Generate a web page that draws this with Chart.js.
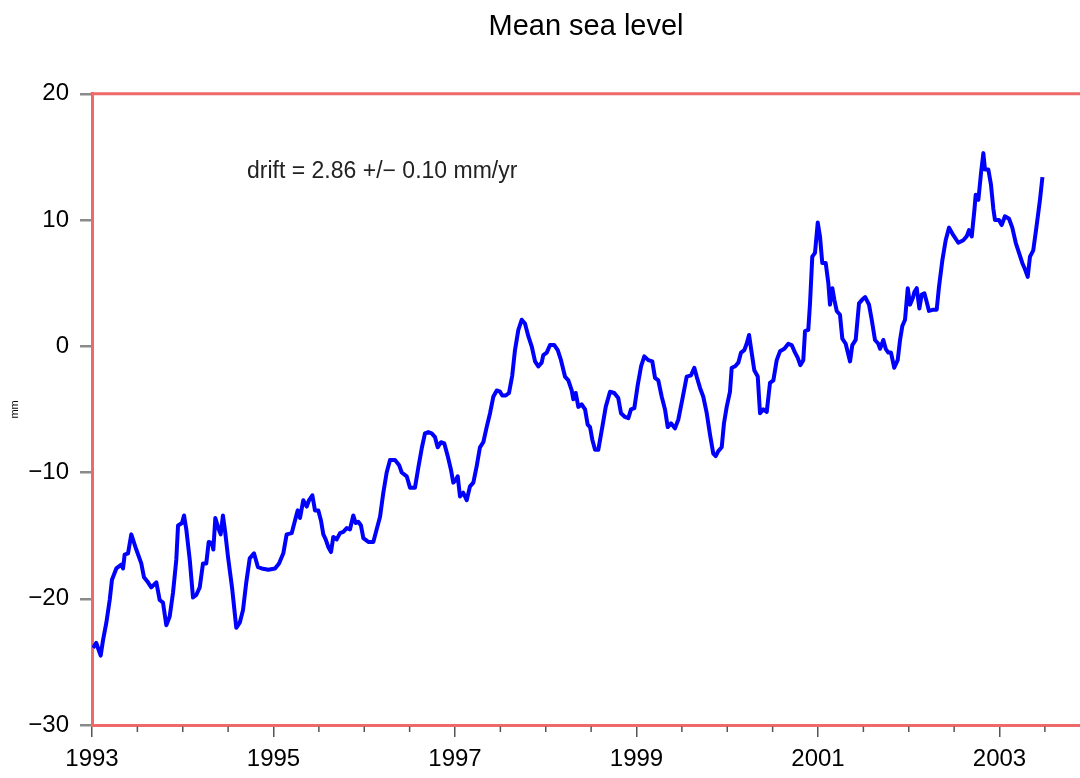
<!DOCTYPE html>
<html>
<head>
<meta charset="utf-8">
<script src="https://cdn.jsdelivr.net/npm/chart.js@4.4.1/dist/chart.umd.min.js"></script>
<style>
  html, body { margin: 0; padding: 0; background: #fff; }
  #wrap { width: 1080px; height: 778px; }
</style>
</head>
<body>
<div id="wrap"><canvas id="msl"></canvas></div>
<script>
// sea level anomaly (mm), time in decimal years
const years = [
  1993.011,1993.047,1993.066,1993.096,1993.121,1993.158,1993.195,1993.220,1993.268,1993.323,
  1993.342,1993.360,1993.397,1993.433,1993.488,1993.543,1993.573,1993.617,1993.653,1993.709,
  1993.746,1993.782,1993.819,1993.856,1993.893,1993.929,1993.948,1993.992,1994.014,1994.039,
  1994.077,1994.113,1994.149,1994.187,1994.223,1994.259,1994.286,1994.322,1994.337,1994.359,
  1994.396,1994.418,1994.443,1994.469,1994.499,1994.543,1994.590,1994.628,1994.664,1994.700,
  1994.738,1994.785,1994.829,
  1994.870,1994.943,1995.017,1995.061,1995.108,1995.145,1995.201,1995.237,1995.267,1995.292,
  1995.328,1995.366,1995.391,1995.428,1995.457,1995.494,1995.523,1995.549,1995.575,1995.604,
  1995.634,1995.659,1995.696,1995.733,1995.769,1995.807,1995.843,1995.879,1995.906,1995.934,
  1995.964,1995.990,1996.045,1996.100,1996.137,1996.174,1996.210,1996.247,1996.284,1996.339,
  1996.383,1996.413,1996.468,1996.504,1996.559,1996.596,1996.633,1996.669,
  1996.706,1996.743,1996.780,1996.809,1996.846,1996.882,1996.920,1996.956,1996.981,1997.008,
  1997.030,1997.055,1997.091,1997.129,1997.165,1997.202,1997.239,1997.275,1997.312,1997.349,
  1997.386,1997.422,1997.460,1997.496,1997.521,1997.559,1997.595,1997.631,1997.661,1997.698,
  1997.735,1997.771,1997.808,1997.845,1997.882,1997.918,1997.955,1997.973,1998.011,1998.047,
  1998.094,1998.132,1998.168,1998.212,1998.249,1998.286,1998.304,1998.330,1998.359,1998.396,
  1998.433,1998.462,1998.488,1998.513,1998.543,1998.579,
  1998.623,1998.661,1998.708,1998.755,1998.799,1998.829,1998.873,1998.910,1998.939,1998.976,
  1999.013,1999.050,1999.086,1999.130,1999.174,1999.204,1999.240,1999.278,1999.314,1999.344,
  1999.380,1999.424,1999.461,1999.505,1999.553,1999.601,1999.637,1999.663,1999.700,1999.736,
  1999.774,1999.810,1999.846,1999.873,1999.901,1999.939,1999.964,1999.994,2000.030,2000.049,
  2000.085,2000.122,2000.152,2000.188,2000.214,2000.240,2000.269,2000.298,2000.336,2000.361,
  2000.397,2000.435,2000.471,
  2000.508,2000.545,2000.581,2000.629,2000.673,2000.710,2000.747,2000.776,2000.805,2000.838,
  2000.857,2000.893,2000.912,2000.937,2000.967,2000.997,2001.022,2001.047,2001.085,2001.114,
  2001.132,2001.158,2001.180,2001.206,2001.242,2001.268,2001.305,2001.353,2001.378,2001.415,
  2001.452,2001.488,2001.520,2001.562,2001.592,2001.628,2001.665,2001.684,2001.720,2001.746,
  2001.775,2001.804,2001.840,2001.878,2001.904,2001.929,2001.959,2001.989,2002.014,2002.044,
  2002.062,2002.088,2002.117,2002.143,2002.172,2002.198,2002.223,2002.271,2002.308,
  2002.333,2002.370,2002.407,2002.444,2002.491,2002.546,2002.601,2002.638,2002.664,2002.694,
  2002.722,2002.738,2002.767,2002.796,2002.822,2002.840,2002.877,2002.906,2002.932,2002.950,
  2002.994,2003.024,2003.060,2003.105,2003.141,2003.179,2003.215,2003.251,2003.281,2003.311,
  2003.336,2003.372,2003.410,2003.446,2003.473
];
const seaLevel = [
  -23.9,-23.5,-23.9,-24.5,-23.3,-21.9,-20.1,-18.5,-17.6,-17.3,
  -17.6,-16.5,-16.4,-14.9,-16.1,-17.2,-18.3,-18.7,-19.1,-18.7,
  -20.1,-20.3,-22.1,-21.4,-19.5,-16.9,-14.2,-14.0,-13.4,-14.5,
  -16.9,-19.9,-19.7,-19.1,-17.2,-17.2,-15.5,-15.6,-16.1,-13.6,
  -14.5,-14.9,-13.4,-14.8,-16.7,-19.1,-22.3,-21.9,-20.9,-18.7,
  -16.8,-16.4,-17.5,
  -17.6,-17.7,-17.6,-17.2,-16.4,-14.9,-14.8,-13.8,-13.0,-13.6,
  -12.2,-12.7,-12.2,-11.8,-13.0,-13.0,-13.8,-14.9,-15.3,-15.9,
  -16.3,-15.1,-15.3,-14.8,-14.7,-14.4,-14.5,-13.4,-14.0,-13.9,
  -14.2,-15.2,-15.5,-15.5,-14.5,-13.5,-11.6,-10.0,-9.0,-9.0,
  -9.4,-10.0,-10.3,-11.2,-11.2,-9.6,-8.1,-6.9,
  -6.8,-6.9,-7.2,-8.0,-7.6,-7.7,-8.7,-9.8,-10.8,-10.6,
  -10.3,-11.9,-11.6,-12.2,-11.1,-10.8,-9.5,-8.0,-7.6,-6.4,
  -5.3,-4.0,-3.5,-3.6,-3.9,-3.9,-3.7,-2.3,-0.3,1.3,
  2.1,1.8,0.8,0.0,-1.2,-1.6,-1.3,-0.7,-0.5,0.1,
  0.1,-0.3,-1.1,-2.4,-2.7,-3.5,-4.2,-3.7,-4.8,-4.6,
  -5.0,-6.2,-6.4,-7.4,-8.2,-8.2,
  -6.4,-4.8,-3.6,-3.7,-4.1,-5.3,-5.6,-5.7,-5.0,-4.9,
  -3.1,-1.6,-0.8,-1.1,-1.2,-2.5,-2.7,-4.0,-5.0,-6.4,
  -6.1,-6.5,-5.8,-4.2,-2.4,-2.3,-1.7,-2.4,-3.3,-4.0,
  -5.3,-7.0,-8.5,-8.7,-8.3,-8.0,-6.1,-4.8,-3.6,-1.7,
  -1.6,-1.3,-0.5,-0.3,0.2,0.9,-0.5,-1.9,-2.4,-5.3,
  -5.0,-5.2,-2.9,
  -2.7,-1.1,-0.4,-0.2,0.2,0.1,-0.5,-0.9,-1.5,-1.1,
  1.2,1.3,3.4,7.1,7.4,9.8,8.7,6.6,6.6,5.0,
  3.3,4.6,3.7,2.8,2.5,0.6,0.2,-1.2,0.1,0.5,
  3.4,3.7,3.9,3.3,2.1,0.5,0.2,-0.2,0.5,-0.2,
  -0.5,-0.5,-1.7,-1.1,0.5,1.6,2.1,4.6,3.3,3.8,
  4.3,4.6,3.0,4.1,4.2,3.5,2.8,2.9,2.9,
  4.7,6.8,8.4,9.4,8.8,8.2,8.4,8.7,9.2,8.7,
  10.7,12.0,11.6,13.7,15.3,14.0,14.0,12.8,10.9,10.0,
  10.0,9.6,10.3,10.1,9.4,8.2,7.4,6.6,6.1,5.5,
  7.1,7.6,9.6,11.6,13.4
];
const yTicks = [-30, -20, -10, 0, 10, 20];
const xLabelYears = [1993, 1995, 1997, 1999, 2001, 2003];
const driftText = 'drift = 2.86 +/\u2212 0.10 mm/yr';

const FONT = "'Liberation Sans', Arial, Helvetica, sans-serif";
const RED = '#ee6a6a';

// x ticks every half year
const halfYears = [];
for (let v = 1993; v <= 2003.5; v += 0.5) halfYears.push(v);

const points = years.map((t, i) => ({ x: t, y: seaLevel[i] }));

// top frame line, short minor ticks, drift note
const framePlugin = {
    id: 'frame',
    afterDraw(chart) {
        const ctx = chart.ctx;
        const a = chart.chartArea;
        const xs = chart.scales.x, ys = chart.scales.y;
        ctx.save();
        ctx.strokeStyle = RED;
        ctx.lineWidth = 3;
        ctx.beginPath();
        ctx.moveTo(a.left - 1.5, a.top);
        ctx.lineTo(chart.width, a.top);
        ctx.stroke();

        ctx.strokeStyle = '#555';
        ctx.lineWidth = 1.5;
        halfYears.forEach(v => {
            if (xLabelYears.includes(v)) return;
            const px = xs.getPixelForValue(v);
            ctx.beginPath();
            ctx.moveTo(px, a.bottom + 1.5);
            ctx.lineTo(px, a.bottom + 7);
            ctx.stroke();
        });

        ctx.fillStyle = '#222';
        ctx.font = '23px ' + FONT;
        ctx.textBaseline = 'middle';
        ctx.textAlign = 'left';
        ctx.fillText(driftText, xs.getPixelForValue(1994.708), ys.getPixelForValue(13.8));
        ctx.restore();
    }
};

const chart = new Chart(document.getElementById('msl'), {
    type: 'line',
    data: {
        datasets: [{
            data: points,
            borderColor: '#0000ff',
            borderWidth: 4,
            pointRadius: 0,
            tension: 0,
            borderJoinStyle: 'round',
            fill: false
        }]
    },
    options: {
        responsive: true,
        maintainAspectRatio: false,
        animation: false,
        layout: { padding: { left: 0, right: 0, top: 0, bottom: 0 } },
        plugins: {
            legend: { display: false },
            tooltip: { enabled: false },
            title: {
                display: true,
                text: 'Mean sea level',
                fullSize: false,
                color: '#000',
                font: { family: FONT, size: 29, weight: 'normal' },
                padding: { top: 10, bottom: 49 }
            }
        },
        scales: {
            x: {
                type: 'linear',
                min: 1993,
                max: 2003.887,
                afterBuildTicks(scale) {
                    scale.ticks = halfYears.map(v => ({ value: v }));
                },
                afterFit(scale) { scale.height = 53; },
                ticks: {
                    autoSkip: false,
                    maxRotation: 0,
                    padding: 8,
                    color: '#000',
                    font: { family: FONT, size: 24 },
                    callback: v => xLabelYears.includes(v) ? String(v) : ''
                },
                grid: {
                    drawOnChartArea: false,
                    drawTicks: true,
                    tickLength: 12,
                    lineWidth: 1.5,
                    tickColor: c => (c.tick && xLabelYears.includes(c.tick.value)) ? '#555' : 'rgba(0,0,0,0)'
                },
                border: { color: RED, width: 3 }
            },
            y: {
                min: -30,
                max: 20,
                afterBuildTicks(scale) {
                    scale.ticks = yTicks.map(v => ({ value: v }));
                },
                afterFit(scale) { scale.width = 92; },
                ticks: {
                    padding: 11,
                    color: '#000',
                    font: { family: FONT, size: 24 },
                    callback: v => (v < 0 ? '\u2212' + Math.abs(v) : String(v))
                },
                grid: {
                    drawOnChartArea: false,
                    drawTicks: true,
                    tickLength: 12,
                    lineWidth: 2.5,
                    tickColor: '#8a8a8a'
                },
                border: { color: RED, width: 3 },
                title: {
                    display: true,
                    text: 'mm',
                    color: '#000',
                    font: { family: FONT, size: 11 },
                    padding: { top: 8, bottom: 0 }
                }
            }
        }
    },
    plugins: [framePlugin]
});
</script>
</body>
</html>
